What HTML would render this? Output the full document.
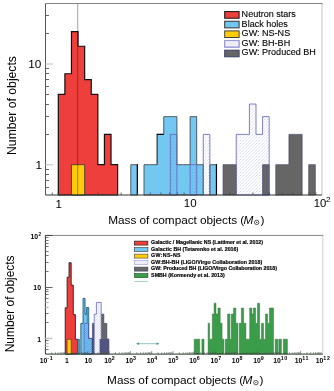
<!DOCTYPE html><html><head><meta charset="utf-8"><style>html,body{margin:0;padding:0;background:#fff;}svg{display:block;will-change:transform;}text{font-family:"Liberation Sans",sans-serif;}</style></head><body>
<svg width="334" height="391" viewBox="0 0 334 391">
<defs><pattern id="h1" width="3.2" height="3.2" patternUnits="userSpaceOnUse"><path d="M-0.8,0.8 L0.8,-0.8 M0,3.2 L3.2,0 M2.4,4 L4,2.4" stroke="#4048c0" stroke-opacity="0.3" stroke-width="0.8" stroke-dasharray="1.6 0.9"/></pattern>
<pattern id="h2" width="2.2" height="2.2" patternUnits="userSpaceOnUse"><path d="M-0.55,0.55 L0.55,-0.55 M0,2.2 L2.2,0 M1.65,2.75 L2.75,1.65" stroke="#3040b8" stroke-opacity="0.42" stroke-width="0.7"/></pattern>
<pattern id="h3" width="2" height="2" patternUnits="userSpaceOnUse" patternTransform="rotate(45)"><line x1="0" y1="0" x2="0" y2="2" stroke="#b4b6e6" stroke-width="0.9"/></pattern>
<pattern id="h4" width="2.6" height="2.6" patternUnits="userSpaceOnUse"><path d="M-0.65,0.65 L0.65,-0.65 M0,2.6 L2.6,0 M1.95,3.25 L3.25,1.95" stroke="#6a70d0" stroke-opacity="0.5" stroke-width="0.6"/></pattern>
</defs>
<line x1="58.30" y1="195" x2="58.30" y2="190" stroke="#ccc" stroke-width="1.2"/>
<line x1="190.10" y1="195" x2="190.10" y2="190" stroke="#ccc" stroke-width="1.2"/>
<path d="M58.30,195.00 L58.30,94.30 L64.89,94.30 L64.89,73.75 L71.48,73.75 L71.48,31.54 L78.07,31.54 L78.07,46.26 L84.66,46.26 L84.66,79.59 L91.25,79.59 L91.25,94.30 L97.84,94.30 L97.84,164.69 L104.43,164.69 L104.43,134.38 L111.02,134.38 L111.02,164.69 L117.61,164.69 L117.61,195.00 Z" fill="#ee3f3c" stroke="#111" stroke-width="1.2"/>
<path d="M130.79,195.00 L130.79,164.69 L137.38,164.69 L137.38,195.00 Z" fill="#73c8f1" stroke="#3a3a3a" stroke-width="0.8"/>
<path d="M143.97,195.00 L143.97,164.69 L150.56,164.69 L150.56,164.69 L157.15,164.69 L157.15,134.38 L163.74,134.38 L163.74,116.64 L170.33,116.64 L170.33,116.64 L176.92,116.64 L176.92,164.69 L183.51,164.69 L183.51,164.69 L190.10,164.69 L190.10,116.64 L196.69,116.64 L196.69,164.69 L203.28,164.69 L203.28,195.00 Z" fill="#73c8f1" stroke="#3a3a3a" stroke-width="0.8"/>
<path d="M209.87,195.00 L209.87,164.69 L216.46,164.69 L216.46,195.00 Z" fill="#73c8f1" stroke="#3a3a3a" stroke-width="0.8"/>
<path d="M223.05,195.00 L223.05,164.69 L229.64,164.69 L229.64,164.69 L236.23,164.69 L236.23,195.00 Z" fill="#666666" stroke="#444a66" stroke-width="0.7"/>
<path d="M262.59,195.00 L262.59,164.69 L269.18,164.69 L269.18,195.00 Z" fill="#666666" stroke="#444a66" stroke-width="0.7"/>
<path d="M275.77,195.00 L275.77,164.69 L282.36,164.69 L282.36,164.69 L288.95,164.69 L288.95,134.38 L295.54,134.38 L295.54,134.38 L302.13,134.38 L302.13,195.00 Z" fill="#666666" stroke="#444a66" stroke-width="0.7"/>
<path d="M308.72,195.00 L308.72,164.69 L315.31,164.69 L315.31,195.00 Z" fill="#666666" stroke="#444a66" stroke-width="0.7"/>
<path d="M170.33,195.00 L170.33,134.38 L176.92,134.38 L176.92,195.00 Z" fill="url(#h1)" stroke="#6468bc" stroke-width="0.85"/>
<path d="M190.10,195.00 L190.10,164.69 L196.69,164.69 L196.69,195.00 Z" fill="url(#h1)" stroke="#6468bc" stroke-width="0.85"/>
<path d="M203.28,195.00 L203.28,134.38 L209.87,134.38 L209.87,195.00 Z" fill="url(#h1)" stroke="#6468bc" stroke-width="0.85"/>
<path d="M236.23,195.00 L236.23,134.38 L242.82,134.38 L242.82,134.38 L249.41,134.38 L249.41,104.06 L256.00,104.06 L256.00,134.38 L262.59,134.38 L262.59,116.64 L269.18,116.64 L269.18,195.00 Z" fill="url(#h1)" stroke="#6468bc" stroke-width="0.85"/>
<path d="M71.48,195.00 L71.48,164.69 L78.07,164.69 L78.07,164.69 L84.66,164.69 L84.66,195.00 Z" fill="#ffcc0a" stroke="#333" stroke-width="0.8"/>
<path d="M137.38,164.19 L137.38,195.00" stroke="#000" stroke-width="1.2"/>
<path d="M157.15,164.69 L157.15,134.38" stroke="#333" stroke-width="0.8" fill="none"/>
<path d="M156.75,134.38 L163.74,134.38" stroke="#000" stroke-width="1.2" fill="none"/>
<path d="M216.46,164.19 L216.46,195.00" stroke="#000" stroke-width="1.2"/>
<line x1="77.7" y1="3.5" x2="77.7" y2="195" stroke="#8c8c8c" stroke-width="0.8" style="mix-blend-mode:multiply"/>
<path d="M322,3.5 L322,195" fill="none" stroke="#cfcfcf" stroke-width="1.2"/><path d="M45.5,3.5 L322.6,3.5" fill="none" stroke="#858585" stroke-width="1"/>
<path d="M45.5,3.5 L45.5,195" fill="none" stroke="#555" stroke-width="1"/><path d="M45.5,195 L322,195" fill="none" stroke="#333" stroke-width="1"/>
<line x1="45.5" y1="187.50" x2="49" y2="187.50" stroke="#555" stroke-width="0.9"/>
<line x1="45.5" y1="180.50" x2="49" y2="180.50" stroke="#555" stroke-width="0.9"/>
<line x1="45.5" y1="174.50" x2="49" y2="174.50" stroke="#555" stroke-width="0.9"/>
<line x1="45.5" y1="169.50" x2="49" y2="169.50" stroke="#555" stroke-width="0.9"/>
<line x1="45.5" y1="134.50" x2="49" y2="134.50" stroke="#555" stroke-width="0.9"/>
<line x1="45.5" y1="116.50" x2="49" y2="116.50" stroke="#555" stroke-width="0.9"/>
<line x1="45.5" y1="104.50" x2="49" y2="104.50" stroke="#555" stroke-width="0.9"/>
<line x1="45.5" y1="94.50" x2="49" y2="94.50" stroke="#555" stroke-width="0.9"/>
<line x1="45.5" y1="86.50" x2="49" y2="86.50" stroke="#555" stroke-width="0.9"/>
<line x1="45.5" y1="79.50" x2="49" y2="79.50" stroke="#555" stroke-width="0.9"/>
<line x1="45.5" y1="73.50" x2="49" y2="73.50" stroke="#555" stroke-width="0.9"/>
<line x1="45.5" y1="68.50" x2="49" y2="68.50" stroke="#555" stroke-width="0.9"/>
<line x1="45.5" y1="33.50" x2="49" y2="33.50" stroke="#555" stroke-width="0.9"/>
<line x1="45.5" y1="15.50" x2="49" y2="15.50" stroke="#555" stroke-width="0.9"/>
<line x1="45.5" y1="164.69" x2="53" y2="164.69" stroke="#ccc" stroke-width="1.3"/>
<line x1="45.5" y1="63.99" x2="53" y2="63.99" stroke="#ccc" stroke-width="1.3"/>
<line x1="52.27" y1="195" x2="52.27" y2="192.5" stroke="#444" stroke-width="0.8"/>
<line x1="97.98" y1="195" x2="97.98" y2="192.5" stroke="#444" stroke-width="0.8"/>
<line x1="121.18" y1="195" x2="121.18" y2="192.5" stroke="#444" stroke-width="0.8"/>
<line x1="137.65" y1="195" x2="137.65" y2="192.5" stroke="#444" stroke-width="0.8"/>
<line x1="150.42" y1="195" x2="150.42" y2="192.5" stroke="#444" stroke-width="0.8"/>
<line x1="160.86" y1="195" x2="160.86" y2="192.5" stroke="#444" stroke-width="0.8"/>
<line x1="169.68" y1="195" x2="169.68" y2="192.5" stroke="#444" stroke-width="0.8"/>
<line x1="177.33" y1="195" x2="177.33" y2="192.5" stroke="#444" stroke-width="0.8"/>
<line x1="184.07" y1="195" x2="184.07" y2="192.5" stroke="#444" stroke-width="0.8"/>
<line x1="229.78" y1="195" x2="229.78" y2="192.5" stroke="#444" stroke-width="0.8"/>
<line x1="252.98" y1="195" x2="252.98" y2="192.5" stroke="#444" stroke-width="0.8"/>
<line x1="269.45" y1="195" x2="269.45" y2="192.5" stroke="#444" stroke-width="0.8"/>
<line x1="282.22" y1="195" x2="282.22" y2="192.5" stroke="#444" stroke-width="0.8"/>
<line x1="292.66" y1="195" x2="292.66" y2="192.5" stroke="#444" stroke-width="0.8"/>
<line x1="301.48" y1="195" x2="301.48" y2="192.5" stroke="#444" stroke-width="0.8"/>
<line x1="309.13" y1="195" x2="309.13" y2="192.5" stroke="#444" stroke-width="0.8"/>
<line x1="315.87" y1="195" x2="315.87" y2="192.5" stroke="#444" stroke-width="0.8"/>
<text x="42" y="169" font-size="11.8" text-anchor="end">1</text>
<text x="41.3" y="68.1" font-size="11.8" text-anchor="end">10</text>
<text x="58.8" y="208.3" font-size="11.5" text-anchor="middle">1</text>
<text x="190.2" y="207" font-size="11.5" text-anchor="middle">10</text>
<text x="326.3" y="207.3" font-size="11.3" text-anchor="end">10</text><text x="325.9" y="201.6" font-size="8">2</text>
<text transform="translate(15.9,105.5) rotate(-90)" font-size="12.2" text-anchor="middle">Number of objects</text>
<text x="108.30" y="223.80" font-size="11.8" textLength="135.90" lengthAdjust="spacing">Mass of compact objects (</text><text x="243.40" y="223.80" font-size="11.8" font-style="italic">M</text><circle cx="256.70" cy="222.40" r="2.2" fill="none" stroke="#000" stroke-width="0.65"/><circle cx="256.70" cy="222.40" r="0.55" fill="#000"/><text x="260.40" y="223.80" font-size="11.8">)</text>
<rect x="224.7" y="11.60" width="14.4" height="6.6" fill="#ee3f3c" stroke="#111" stroke-width="1"/>
<text x="241.6" y="16.80" font-size="9.05" stroke="#000" stroke-width="0.12">Neutron stars</text>
<rect x="224.7" y="21.25" width="14.4" height="6.6" fill="#73c8f1" stroke="#333" stroke-width="1"/>
<text x="241.6" y="26.90" font-size="9.05" stroke="#000" stroke-width="0.12">Black holes</text>
<rect x="224.7" y="30.90" width="14.4" height="6.6" fill="#ffcc0a" stroke="#444" stroke-width="1"/>
<text x="241.6" y="35.90" font-size="9.05" stroke="#000" stroke-width="0.12">GW: NS-NS</text>
<rect x="224.7" y="40.55" width="14.4" height="6.6" fill="#fff" stroke="#9a9ad8" stroke-width="1"/>
<rect x="224.7" y="40.55" width="14.4" height="6.6" fill="url(#h3)" stroke="#9a9ad8" stroke-width="1"/>
<text x="241.6" y="45.50" font-size="9.05" stroke="#000" stroke-width="0.12">GW: BH-BH</text>
<rect x="224.7" y="50.20" width="14.4" height="6.6" fill="#666666" stroke="#3a3f66" stroke-width="1"/>
<text x="241.6" y="54.80" font-size="9.05" stroke="#000" stroke-width="0.12">GW: Produced BH</text>
<path d="M65.20,354.00 L65.20,307.80 L67.10,307.80 L67.10,277.20 L69.00,277.20 L69.00,262.70 L71.20,262.70 L71.20,285.10 L73.30,285.10 L73.30,314.60 L75.40,314.60 L75.40,339.30 L77.60,339.30 L77.60,354.00 Z" fill="#ee3f3c" stroke="#111" stroke-width="0.8"/>
<path d="M67.10,354.00 L67.10,339.30 L71.20,339.30 L71.20,354.00 Z" fill="#ffcc0a" stroke="#333" stroke-width="0.6"/>
<path d="M77.70,354.00 L77.70,339.30 L79.20,339.30 L79.20,354.00 Z" fill="#73c8f1" stroke="#245a78" stroke-width="1.0"/>
<path d="M80.90,354.00 L80.90,323.40 L83.10,323.40 L83.10,298.40 L85.00,298.40 L85.00,314.30 L86.40,314.30 L86.40,307.60 L88.70,307.60 L88.70,338.50 L92.40,338.50 L92.40,354.00 Z" fill="#73c8f1" stroke="#245a78" stroke-width="1.0"/>
<rect x="83.3" y="298.9" width="1.5" height="15.4" fill="#4f97bf"/>
<rect x="86.6" y="308.0" width="1.9" height="15.0" fill="#4f97bf"/>
<path d="M84.10,354.00 L84.10,323.30 L88.60,323.30 L88.60,338.30 L92.30,338.30 L92.30,354.00 Z" fill="url(#h2)" stroke="#5a5ac0" stroke-width="0.7"/>
<path d="M101.20,354.00 L101.20,314.20 L103.80,314.20 L103.80,323.40 L106.80,323.40 L106.80,339.00 L108.90,339.00 L108.90,354.00 Z" fill="#666666" stroke="#3a3f66" stroke-width="0.7"/>
<path d="M92.40,354.00 L92.40,323.40 L94.30,323.40 L94.30,354.00 Z" fill="#50547e" stroke="#3a3f66" stroke-width="0.6"/>
<path d="M94.20,354.00 L94.20,314.20 L96.40,314.20 L96.40,302.40 L101.20,302.40 L101.20,354.00 Z" fill="#fff" stroke="none"/>
<path d="M94.20,354.00 L94.20,314.20 L96.40,314.20 L96.40,302.40 L101.20,302.40 L101.20,354.00 Z" fill="url(#h4)" stroke="#6468bc" stroke-width="0.8"/>
<rect x="99.6" y="339" width="9.3" height="15" fill="#50547e"/>
<path d="M194.20,354.00 L194.20,339.20 L199.70,339.20 L199.70,354.00 Z" fill="#3b9c4a" stroke="#2a6a34" stroke-width="0.45"/>
<path d="M201.90,354.00 L201.90,339.20 L204.00,339.20 L204.00,354.00 Z" fill="#3b9c4a" stroke="#2a6a34" stroke-width="0.45"/>
<path d="M208.10,354.00 L208.10,323.30 L209.60,323.30 L209.60,339.20 L212.30,339.20 L212.30,314.00 L214.10,314.00 L214.10,303.20 L216.00,303.20 L216.00,314.00 L218.00,314.00 L218.00,308.00 L220.20,308.00 L220.20,323.30 L222.10,323.30 L222.10,339.20 L223.90,339.20 L223.90,354.00 Z" fill="#3b9c4a" stroke="#2a6a34" stroke-width="0.45"/>
<path d="M225.30,354.00 L225.30,339.20 L227.60,339.20 L227.60,314.00 L229.90,314.00 L229.90,339.20 L231.30,339.20 L231.30,314.00 L233.60,314.00 L233.60,308.00 L235.80,308.00 L235.80,323.30 L237.90,323.30 L237.90,354.00 Z" fill="#3b9c4a" stroke="#2a6a34" stroke-width="0.45"/>
<path d="M239.30,354.00 L239.30,323.30 L241.40,323.30 L241.40,308.00 L243.60,308.00 L243.60,323.30 L245.90,323.30 L245.90,339.20 L249.70,339.20 L249.70,308.00 L251.90,308.00 L251.90,314.00 L253.40,314.00 L253.40,308.00 L255.60,308.00 L255.60,323.30 L257.50,323.30 L257.50,303.20 L259.60,303.20 L259.60,339.20 L261.50,339.20 L261.50,323.30 L263.50,323.30 L263.50,339.20 L265.50,339.20 L265.50,314.00 L267.60,314.00 L267.60,323.30 L269.50,323.30 L269.50,308.00 L273.50,308.00 L273.50,354.00 Z" fill="#3b9c4a" stroke="#2a6a34" stroke-width="0.45"/>
<path d="M275.20,354.00 L275.20,339.20 L277.80,339.20 L277.80,354.00 Z" fill="#3b9c4a" stroke="#2a6a34" stroke-width="0.45"/>
<path d="M278.80,354.00 L278.80,339.20 L281.40,339.20 L281.40,354.00 Z" fill="#3b9c4a" stroke="#2a6a34" stroke-width="0.45"/>
<path d="M283.30,354.00 L283.30,339.20 L287.40,339.20 L287.40,354.00 Z" fill="#3b9c4a" stroke="#2a6a34" stroke-width="0.45"/>
<line x1="137.5" y1="343.7" x2="158" y2="343.7" stroke="#86bcbc" stroke-width="0.9"/>
<path d="M136.2,343.7 L139,342.3 L139,345.1 Z" fill="#4f9191"/><path d="M159.3,343.7 L156.5,342.3 L156.5,345.1 Z" fill="#4f9191"/>
<path d="M322.8,235.4 L322.8,354" fill="none" stroke="#d5d5d5" stroke-width="1.2"/><path d="M45.4,235.4 L323.3,235.4" fill="none" stroke="#858585" stroke-width="1"/>
<path d="M45.4,235.4 L45.4,354" fill="none" stroke="#333" stroke-width="1"/><path d="M45.4,354.1 L322.8,354.1" fill="none" stroke="#1e3522" stroke-width="1"/>
<line x1="45.4" y1="349.50" x2="48.6" y2="349.50" stroke="#555" stroke-width="0.8"/>
<line x1="45.4" y1="346.48" x2="48.6" y2="346.48" stroke="#bbb" stroke-width="1.3"/>
<line x1="45.4" y1="343.49" x2="48.6" y2="343.49" stroke="#bbb" stroke-width="1.3"/>
<line x1="45.4" y1="340.50" x2="48.6" y2="340.50" stroke="#555" stroke-width="0.8"/>
<line x1="45.4" y1="322.50" x2="48.6" y2="322.50" stroke="#555" stroke-width="0.8"/>
<line x1="45.4" y1="313.50" x2="48.6" y2="313.50" stroke="#555" stroke-width="0.8"/>
<line x1="45.4" y1="307.49" x2="48.6" y2="307.49" stroke="#bbb" stroke-width="1.3"/>
<line x1="45.4" y1="302.50" x2="48.6" y2="302.50" stroke="#bbb" stroke-width="1.3"/>
<line x1="45.4" y1="298.50" x2="48.6" y2="298.50" stroke="#555" stroke-width="0.8"/>
<line x1="45.4" y1="294.50" x2="48.6" y2="294.50" stroke="#555" stroke-width="0.8"/>
<line x1="45.4" y1="291.50" x2="48.6" y2="291.50" stroke="#555" stroke-width="0.8"/>
<line x1="45.4" y1="289.50" x2="48.6" y2="289.50" stroke="#555" stroke-width="0.8"/>
<line x1="45.4" y1="271.50" x2="48.6" y2="271.50" stroke="#555" stroke-width="0.8"/>
<line x1="45.4" y1="262.50" x2="48.6" y2="262.50" stroke="#555" stroke-width="0.8"/>
<line x1="45.4" y1="255.50" x2="48.6" y2="255.50" stroke="#555" stroke-width="0.8"/>
<line x1="45.4" y1="251.50" x2="48.6" y2="251.50" stroke="#555" stroke-width="0.8"/>
<line x1="45.4" y1="246.50" x2="48.6" y2="246.50" stroke="#555" stroke-width="0.8"/>
<line x1="45.4" y1="243.50" x2="48.6" y2="243.50" stroke="#555" stroke-width="0.8"/>
<line x1="45.4" y1="240.50" x2="48.6" y2="240.50" stroke="#555" stroke-width="0.8"/>
<line x1="45.4" y1="237.50" x2="48.6" y2="237.50" stroke="#555" stroke-width="0.8"/>
<line x1="45.4" y1="338.50" x2="52.6" y2="338.50" stroke="#c8c8c8" stroke-width="1.6"/>
<line x1="45.4" y1="287.5" x2="52.6" y2="287.5" stroke="#555" stroke-width="0.9"/>
<line x1="45.4" y1="235.5" x2="52.6" y2="235.5" stroke="#444" stroke-width="1"/>
<line x1="51.71" y1="354" x2="51.71" y2="352.2" stroke="#555" stroke-width="0.6"/>
<line x1="55.45" y1="354" x2="55.45" y2="352.2" stroke="#555" stroke-width="0.6"/>
<line x1="58.11" y1="354" x2="58.11" y2="352.2" stroke="#555" stroke-width="0.6"/>
<line x1="60.17" y1="354" x2="60.17" y2="352.2" stroke="#555" stroke-width="0.6"/>
<line x1="61.86" y1="354" x2="61.86" y2="352.2" stroke="#555" stroke-width="0.6"/>
<line x1="63.28" y1="354" x2="63.28" y2="352.2" stroke="#555" stroke-width="0.6"/>
<line x1="64.52" y1="354" x2="64.52" y2="352.2" stroke="#555" stroke-width="0.6"/>
<line x1="65.61" y1="354" x2="65.61" y2="352.2" stroke="#555" stroke-width="0.6"/>
<line x1="72.99" y1="354" x2="72.99" y2="352.2" stroke="#555" stroke-width="0.6"/>
<line x1="76.73" y1="354" x2="76.73" y2="352.2" stroke="#555" stroke-width="0.6"/>
<line x1="79.39" y1="354" x2="79.39" y2="352.2" stroke="#555" stroke-width="0.6"/>
<line x1="81.45" y1="354" x2="81.45" y2="352.2" stroke="#555" stroke-width="0.6"/>
<line x1="83.14" y1="354" x2="83.14" y2="352.2" stroke="#555" stroke-width="0.6"/>
<line x1="84.56" y1="354" x2="84.56" y2="352.2" stroke="#555" stroke-width="0.6"/>
<line x1="85.80" y1="354" x2="85.80" y2="352.2" stroke="#555" stroke-width="0.6"/>
<line x1="86.89" y1="354" x2="86.89" y2="352.2" stroke="#555" stroke-width="0.6"/>
<line x1="94.27" y1="354" x2="94.27" y2="352.2" stroke="#555" stroke-width="0.6"/>
<line x1="98.01" y1="354" x2="98.01" y2="352.2" stroke="#555" stroke-width="0.6"/>
<line x1="100.67" y1="354" x2="100.67" y2="352.2" stroke="#555" stroke-width="0.6"/>
<line x1="102.73" y1="354" x2="102.73" y2="352.2" stroke="#555" stroke-width="0.6"/>
<line x1="104.42" y1="354" x2="104.42" y2="352.2" stroke="#555" stroke-width="0.6"/>
<line x1="105.84" y1="354" x2="105.84" y2="352.2" stroke="#555" stroke-width="0.6"/>
<line x1="107.08" y1="354" x2="107.08" y2="352.2" stroke="#555" stroke-width="0.6"/>
<line x1="108.17" y1="354" x2="108.17" y2="352.2" stroke="#555" stroke-width="0.6"/>
<line x1="115.55" y1="354" x2="115.55" y2="352.2" stroke="#555" stroke-width="0.6"/>
<line x1="119.29" y1="354" x2="119.29" y2="352.2" stroke="#555" stroke-width="0.6"/>
<line x1="121.95" y1="354" x2="121.95" y2="352.2" stroke="#555" stroke-width="0.6"/>
<line x1="124.01" y1="354" x2="124.01" y2="352.2" stroke="#555" stroke-width="0.6"/>
<line x1="125.70" y1="354" x2="125.70" y2="352.2" stroke="#555" stroke-width="0.6"/>
<line x1="127.12" y1="354" x2="127.12" y2="352.2" stroke="#555" stroke-width="0.6"/>
<line x1="128.36" y1="354" x2="128.36" y2="352.2" stroke="#555" stroke-width="0.6"/>
<line x1="129.45" y1="354" x2="129.45" y2="352.2" stroke="#555" stroke-width="0.6"/>
<line x1="136.83" y1="354" x2="136.83" y2="352.2" stroke="#555" stroke-width="0.6"/>
<line x1="140.57" y1="354" x2="140.57" y2="352.2" stroke="#555" stroke-width="0.6"/>
<line x1="143.23" y1="354" x2="143.23" y2="352.2" stroke="#555" stroke-width="0.6"/>
<line x1="145.29" y1="354" x2="145.29" y2="352.2" stroke="#555" stroke-width="0.6"/>
<line x1="146.98" y1="354" x2="146.98" y2="352.2" stroke="#555" stroke-width="0.6"/>
<line x1="148.40" y1="354" x2="148.40" y2="352.2" stroke="#555" stroke-width="0.6"/>
<line x1="149.64" y1="354" x2="149.64" y2="352.2" stroke="#555" stroke-width="0.6"/>
<line x1="150.73" y1="354" x2="150.73" y2="352.2" stroke="#555" stroke-width="0.6"/>
<line x1="158.11" y1="354" x2="158.11" y2="352.2" stroke="#555" stroke-width="0.6"/>
<line x1="161.85" y1="354" x2="161.85" y2="352.2" stroke="#555" stroke-width="0.6"/>
<line x1="164.51" y1="354" x2="164.51" y2="352.2" stroke="#555" stroke-width="0.6"/>
<line x1="166.57" y1="354" x2="166.57" y2="352.2" stroke="#555" stroke-width="0.6"/>
<line x1="168.26" y1="354" x2="168.26" y2="352.2" stroke="#555" stroke-width="0.6"/>
<line x1="169.68" y1="354" x2="169.68" y2="352.2" stroke="#555" stroke-width="0.6"/>
<line x1="170.92" y1="354" x2="170.92" y2="352.2" stroke="#555" stroke-width="0.6"/>
<line x1="172.01" y1="354" x2="172.01" y2="352.2" stroke="#555" stroke-width="0.6"/>
<line x1="179.39" y1="354" x2="179.39" y2="352.2" stroke="#555" stroke-width="0.6"/>
<line x1="183.13" y1="354" x2="183.13" y2="352.2" stroke="#555" stroke-width="0.6"/>
<line x1="185.79" y1="354" x2="185.79" y2="352.2" stroke="#555" stroke-width="0.6"/>
<line x1="187.85" y1="354" x2="187.85" y2="352.2" stroke="#555" stroke-width="0.6"/>
<line x1="189.54" y1="354" x2="189.54" y2="352.2" stroke="#555" stroke-width="0.6"/>
<line x1="190.96" y1="354" x2="190.96" y2="352.2" stroke="#555" stroke-width="0.6"/>
<line x1="192.20" y1="354" x2="192.20" y2="352.2" stroke="#555" stroke-width="0.6"/>
<line x1="193.29" y1="354" x2="193.29" y2="352.2" stroke="#555" stroke-width="0.6"/>
<line x1="200.67" y1="354" x2="200.67" y2="352.2" stroke="#555" stroke-width="0.6"/>
<line x1="204.41" y1="354" x2="204.41" y2="352.2" stroke="#555" stroke-width="0.6"/>
<line x1="207.07" y1="354" x2="207.07" y2="352.2" stroke="#555" stroke-width="0.6"/>
<line x1="209.13" y1="354" x2="209.13" y2="352.2" stroke="#555" stroke-width="0.6"/>
<line x1="210.82" y1="354" x2="210.82" y2="352.2" stroke="#555" stroke-width="0.6"/>
<line x1="212.24" y1="354" x2="212.24" y2="352.2" stroke="#555" stroke-width="0.6"/>
<line x1="213.48" y1="354" x2="213.48" y2="352.2" stroke="#555" stroke-width="0.6"/>
<line x1="214.57" y1="354" x2="214.57" y2="352.2" stroke="#555" stroke-width="0.6"/>
<line x1="221.95" y1="354" x2="221.95" y2="352.2" stroke="#555" stroke-width="0.6"/>
<line x1="225.69" y1="354" x2="225.69" y2="352.2" stroke="#555" stroke-width="0.6"/>
<line x1="228.35" y1="354" x2="228.35" y2="352.2" stroke="#555" stroke-width="0.6"/>
<line x1="230.41" y1="354" x2="230.41" y2="352.2" stroke="#555" stroke-width="0.6"/>
<line x1="232.10" y1="354" x2="232.10" y2="352.2" stroke="#555" stroke-width="0.6"/>
<line x1="233.52" y1="354" x2="233.52" y2="352.2" stroke="#555" stroke-width="0.6"/>
<line x1="234.76" y1="354" x2="234.76" y2="352.2" stroke="#555" stroke-width="0.6"/>
<line x1="235.85" y1="354" x2="235.85" y2="352.2" stroke="#555" stroke-width="0.6"/>
<line x1="243.23" y1="354" x2="243.23" y2="352.2" stroke="#555" stroke-width="0.6"/>
<line x1="246.97" y1="354" x2="246.97" y2="352.2" stroke="#555" stroke-width="0.6"/>
<line x1="249.63" y1="354" x2="249.63" y2="352.2" stroke="#555" stroke-width="0.6"/>
<line x1="251.69" y1="354" x2="251.69" y2="352.2" stroke="#555" stroke-width="0.6"/>
<line x1="253.38" y1="354" x2="253.38" y2="352.2" stroke="#555" stroke-width="0.6"/>
<line x1="254.80" y1="354" x2="254.80" y2="352.2" stroke="#555" stroke-width="0.6"/>
<line x1="256.04" y1="354" x2="256.04" y2="352.2" stroke="#555" stroke-width="0.6"/>
<line x1="257.13" y1="354" x2="257.13" y2="352.2" stroke="#555" stroke-width="0.6"/>
<line x1="264.51" y1="354" x2="264.51" y2="352.2" stroke="#555" stroke-width="0.6"/>
<line x1="268.25" y1="354" x2="268.25" y2="352.2" stroke="#555" stroke-width="0.6"/>
<line x1="270.91" y1="354" x2="270.91" y2="352.2" stroke="#555" stroke-width="0.6"/>
<line x1="272.97" y1="354" x2="272.97" y2="352.2" stroke="#555" stroke-width="0.6"/>
<line x1="274.66" y1="354" x2="274.66" y2="352.2" stroke="#555" stroke-width="0.6"/>
<line x1="276.08" y1="354" x2="276.08" y2="352.2" stroke="#555" stroke-width="0.6"/>
<line x1="277.32" y1="354" x2="277.32" y2="352.2" stroke="#555" stroke-width="0.6"/>
<line x1="278.41" y1="354" x2="278.41" y2="352.2" stroke="#555" stroke-width="0.6"/>
<line x1="285.79" y1="354" x2="285.79" y2="352.2" stroke="#555" stroke-width="0.6"/>
<line x1="289.53" y1="354" x2="289.53" y2="352.2" stroke="#555" stroke-width="0.6"/>
<line x1="292.19" y1="354" x2="292.19" y2="352.2" stroke="#555" stroke-width="0.6"/>
<line x1="294.25" y1="354" x2="294.25" y2="352.2" stroke="#555" stroke-width="0.6"/>
<line x1="295.94" y1="354" x2="295.94" y2="352.2" stroke="#555" stroke-width="0.6"/>
<line x1="297.36" y1="354" x2="297.36" y2="352.2" stroke="#555" stroke-width="0.6"/>
<line x1="298.60" y1="354" x2="298.60" y2="352.2" stroke="#555" stroke-width="0.6"/>
<line x1="299.69" y1="354" x2="299.69" y2="352.2" stroke="#555" stroke-width="0.6"/>
<line x1="307.07" y1="354" x2="307.07" y2="352.2" stroke="#555" stroke-width="0.6"/>
<line x1="310.81" y1="354" x2="310.81" y2="352.2" stroke="#555" stroke-width="0.6"/>
<line x1="313.47" y1="354" x2="313.47" y2="352.2" stroke="#555" stroke-width="0.6"/>
<line x1="315.53" y1="354" x2="315.53" y2="352.2" stroke="#555" stroke-width="0.6"/>
<line x1="317.22" y1="354" x2="317.22" y2="352.2" stroke="#555" stroke-width="0.6"/>
<line x1="318.64" y1="354" x2="318.64" y2="352.2" stroke="#555" stroke-width="0.6"/>
<line x1="319.88" y1="354" x2="319.88" y2="352.2" stroke="#555" stroke-width="0.6"/>
<line x1="320.97" y1="354" x2="320.97" y2="352.2" stroke="#555" stroke-width="0.6"/>
<line x1="66.58" y1="354" x2="66.58" y2="351" stroke="#555" stroke-width="0.6"/>
<line x1="87.86" y1="354" x2="87.86" y2="351" stroke="#555" stroke-width="0.6"/>
<line x1="109.14" y1="354" x2="109.14" y2="351" stroke="#555" stroke-width="0.6"/>
<line x1="130.42" y1="354" x2="130.42" y2="351" stroke="#555" stroke-width="0.6"/>
<line x1="151.70" y1="354" x2="151.70" y2="351" stroke="#555" stroke-width="0.6"/>
<line x1="172.98" y1="354" x2="172.98" y2="351" stroke="#555" stroke-width="0.6"/>
<line x1="194.26" y1="354" x2="194.26" y2="351" stroke="#555" stroke-width="0.6"/>
<line x1="215.54" y1="354" x2="215.54" y2="351" stroke="#555" stroke-width="0.6"/>
<line x1="236.82" y1="354" x2="236.82" y2="351" stroke="#555" stroke-width="0.6"/>
<line x1="258.10" y1="354" x2="258.10" y2="351" stroke="#555" stroke-width="0.6"/>
<line x1="279.38" y1="354" x2="279.38" y2="351" stroke="#555" stroke-width="0.6"/>
<line x1="300.66" y1="354" x2="300.66" y2="351" stroke="#555" stroke-width="0.6"/>
<text x="38.2" y="238.9" font-size="6.9" font-weight="bold" text-anchor="end">10</text><text x="38.4" y="235.6" font-size="4.6" font-weight="bold">2</text>
<text x="41" y="290" font-size="6.9" font-weight="bold" text-anchor="end">10</text>
<text x="41" y="341.9" font-size="6.9" font-weight="bold" text-anchor="end">1</text>
<text x="46.50" y="363" font-size="6.8" font-weight="bold" text-anchor="middle">10<tspan dy="-3.3" font-size="5.3" letter-spacing="0.6">-1</tspan></text>
<text x="66.78" y="363" font-size="6.8" font-weight="bold" text-anchor="middle">1</text>
<text x="88.26" y="363" font-size="6.8" font-weight="bold" text-anchor="middle">10</text>
<text x="109.44" y="363" font-size="6.8" font-weight="bold" text-anchor="middle">10<tspan dy="-3.3" font-size="5.3">2</tspan></text>
<text x="130.72" y="363" font-size="6.8" font-weight="bold" text-anchor="middle">10<tspan dy="-3.3" font-size="5.3">3</tspan></text>
<text x="152.00" y="363" font-size="6.8" font-weight="bold" text-anchor="middle">10<tspan dy="-3.3" font-size="5.3">4</tspan></text>
<text x="173.28" y="363" font-size="6.8" font-weight="bold" text-anchor="middle">10<tspan dy="-3.3" font-size="5.3">5</tspan></text>
<text x="194.56" y="363" font-size="6.8" font-weight="bold" text-anchor="middle">10<tspan dy="-3.3" font-size="5.3">6</tspan></text>
<text x="215.84" y="363" font-size="6.8" font-weight="bold" text-anchor="middle">10<tspan dy="-3.3" font-size="5.3">7</tspan></text>
<text x="237.12" y="363" font-size="6.8" font-weight="bold" text-anchor="middle">10<tspan dy="-3.3" font-size="5.3">8</tspan></text>
<text x="258.40" y="363" font-size="6.8" font-weight="bold" text-anchor="middle">10<tspan dy="-3.3" font-size="5.3">9</tspan></text>
<text x="280.58" y="363" font-size="6.8" font-weight="bold" text-anchor="middle">10<tspan dy="-3.3" font-size="5.3" letter-spacing="0.6">10</tspan></text>
<text x="301.86" y="363" font-size="6.8" font-weight="bold" text-anchor="middle">10<tspan dy="-3.3" font-size="5.3" letter-spacing="0.6">11</tspan></text>
<text x="323.14" y="363" font-size="6.8" font-weight="bold" text-anchor="middle">10<tspan dy="-3.3" font-size="5.3" letter-spacing="0.6">12</tspan></text>
<text transform="translate(13.9,303.85) rotate(-90)" font-size="11.95" text-anchor="middle">Number of objects</text>
<text x="107.10" y="383.80" font-size="11.8" textLength="136.10" lengthAdjust="spacing">Mass of compact objects (</text><text x="242.40" y="383.80" font-size="11.8" font-style="italic">M</text><circle cx="255.90" cy="382.60" r="2.2" fill="none" stroke="#000" stroke-width="0.65"/><circle cx="255.90" cy="382.60" r="0.55" fill="#000"/><text x="259.50" y="383.80" font-size="11.8">)</text>
<rect x="134.4" y="241.10" width="13.5" height="4" fill="#ee3f3c" stroke="#111" stroke-width="0.6"/>
<text x="151.1" y="244.30" font-size="5.3" font-weight="bold" stroke="#000" stroke-width="0.18" textLength="111.9" lengthAdjust="spacing">Galactic / Magellanic NS (Lattimer et al. 2012)</text>
<rect x="134.4" y="247.60" width="13.5" height="4" fill="#73c8f1" stroke="#333" stroke-width="0.6"/>
<text x="151.1" y="250.80" font-size="5.3" font-weight="bold" stroke="#000" stroke-width="0.18" textLength="87.2" lengthAdjust="spacing">Galactic BH (Tetarenko et al. 2016)</text>
<rect x="134.4" y="254.10" width="13.5" height="4" fill="#ffcc0a" stroke="#444" stroke-width="0.6"/>
<text x="151.1" y="257.30" font-size="5.3" font-weight="bold" stroke="#000" stroke-width="0.18" textLength="29.5" lengthAdjust="spacing">GW:NS-NS</text>
<rect x="134.4" y="260.60" width="13.5" height="4" fill="#fff"/>
<rect x="134.4" y="260.60" width="13.5" height="4" fill="url(#h3)" stroke="#9a9ad8" stroke-width="0.6"/>
<text x="151.1" y="263.80" font-size="5.3" font-weight="bold" stroke="#000" stroke-width="0.18" textLength="111.2" lengthAdjust="spacing">GW:BH-BH (LIGO/Virgo Collaboration 2018)</text>
<rect x="134.4" y="267.10" width="13.5" height="4" fill="#666666" stroke="#3a3f66" stroke-width="0.6"/>
<text x="151.1" y="270.30" font-size="5.3" font-weight="bold" stroke="#000" stroke-width="0.18" textLength="125.8" lengthAdjust="spacing">GW: Produced BH (LIGO/Virgo Collaboration 2018)</text>
<rect x="134.4" y="273.60" width="13.5" height="4" fill="#3b9c4a" stroke="#1f4a26" stroke-width="0.6"/>
<text x="151.1" y="276.80" font-size="5.3" font-weight="bold" stroke="#000" stroke-width="0.18" textLength="73.6" lengthAdjust="spacing">SMBH (Kormendy et al. 2013)</text>
<line x1="134.4" y1="281.5" x2="147.9" y2="281.5" stroke="#8fbfc0" stroke-width="0.8"/>
</svg></body></html>
